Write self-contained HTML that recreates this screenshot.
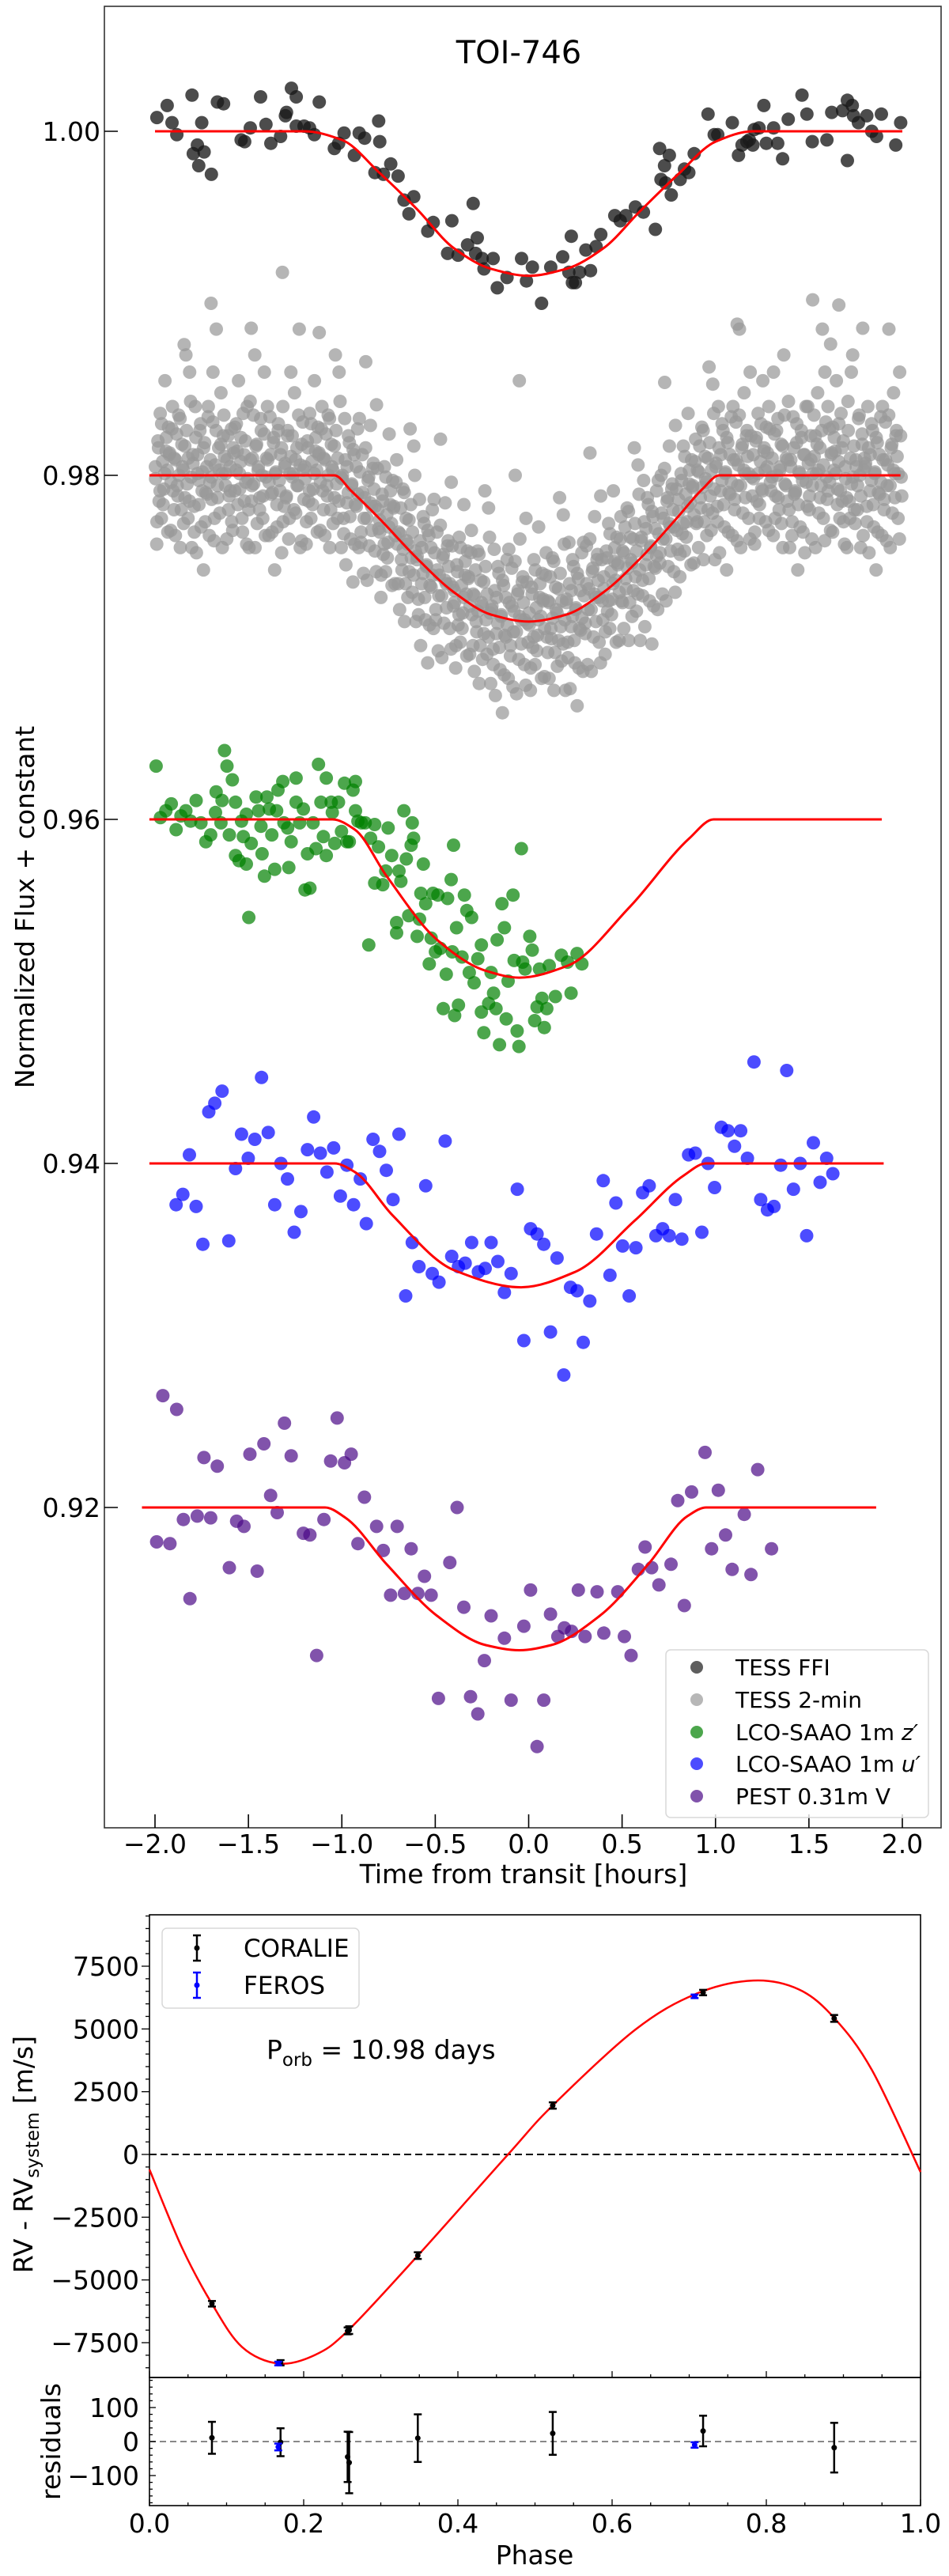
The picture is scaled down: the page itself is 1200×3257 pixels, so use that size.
<!DOCTYPE html>
<html><head><meta charset="utf-8"><title>TOI-746</title>
<style>
html,body{margin:0;padding:0;background:#fff;}
svg{display:block;font-family:"DejaVu Sans","Liberation Sans",sans-serif;}
</style></head>
<body>
<svg id="fig" xmlns="http://www.w3.org/2000/svg" width="1200" height="3257" viewBox="0 0 1200 3257">
<rect x="0" y="0" width="1200" height="3257" fill="#fff"/>
<g id="lcPanel"></g>
<g id="rvPanel"></g>
<g id="resPanel"></g>
</svg>
<script>
// ---------- Light curve data ----------
const ffiT=[-1.99,-1.935,-1.909,-1.883,-1.802,-1.795,-1.773,-1.737,-1.766,-1.75,-1.698,-1.666,-1.633,-1.539,-1.52,-1.49,-1.435,-1.406,-1.38,-1.328,-1.302,-1.296,-1.27,-1.244,-1.244,-1.202,-1.173,-1.147,-1.121,-1.04,-1.017,-0.988,-0.933,-0.907,-0.878,-0.823,-0.803,-0.797,-0.777,-0.738,-0.699,-0.667,-0.615,-0.641,-0.54,-0.511,-0.434,-0.411,-0.378,-0.327,-0.297,-0.275,-0.284,-0.249,-0.239,-0.19,-0.168,-0.116,-0.038,-0.012,0.02,0.069,0.118,0.182,0.215,0.234,0.228,0.25,0.273,0.306,0.331,0.361,0.386,0.461,0.49,0.52,0.571,0.614,0.678,0.701,0.727,0.753,0.708,0.733,0.763,0.811,0.834,0.857,0.886,0.96,0.993,1.012,1.09,1.123,1.142,1.168,1.181,1.207,1.233,1.2,1.259,1.272,1.311,1.333,1.359,1.389,1.463,1.489,1.518,1.596,1.622,1.68,1.706,1.732,1.739,1.765,1.706,1.81,1.836,1.862,1.888,1.965,1.991];
const ffiF=[1.0008,1.0015,1.0005,0.9998,1.0021,0.9987,0.9992,0.9988,0.998,1.0005,0.9975,1.0017,1.0016,0.9995,0.9994,1.0002,1.002,1.0004,0.9993,0.9997,1.0009,1.0011,1.0025,1.002,1.0003,1.0003,1.0002,0.9998,1.0017,0.999,0.9993,0.9999,0.9986,0.9999,0.9996,0.9976,1.0006,0.9994,0.9975,0.9981,0.9974,0.996,0.9962,0.9952,0.9942,0.9947,0.9929,0.9948,0.9928,0.9934,0.9958,0.9938,0.9929,0.9926,0.992,0.9926,0.9909,0.9915,0.9926,0.9913,0.9921,0.99,0.9921,0.9927,0.9918,0.9912,0.9939,0.9912,0.9918,0.9931,0.9919,0.9933,0.994,0.9951,0.9948,0.9951,0.9956,0.9953,0.9943,0.999,0.998,0.9986,0.9972,0.997,0.9963,0.9972,0.9978,0.9976,0.9987,1.001,0.9998,0.9998,1.0005,0.9986,0.9992,0.9994,0.9995,1.0001,1.0002,0.9992,1.0015,0.9993,1.0002,0.9993,0.9984,1.0007,1.0021,1.001,0.9994,0.9995,1.0011,1.0012,1.0018,1.0015,1.0009,1.0005,0.9983,1.0009,1.0,0.9997,1.001,0.9992,1.0005];

const grayBinTimes=[-1.95,-1.85,-1.75,-1.65,-1.55,-1.45,-1.35,-1.25,-1.15,-1.05,-0.95,-0.85,-0.75,-0.65,-0.55,-0.45,-0.35,-0.25,-0.15,-0.05,0.05,0.15,0.25,0.35,0.45,0.55,0.65,0.75,0.85,0.95,1.05,1.15,1.25,1.35,1.45,1.55,1.65,1.75,1.85,1.95];
// flux x 1e4 for each time bin
const grayRowsE4=[
[9798,9760,9820,9785,9836,9775,9808,9792,9855,9814,9803,9828,9813,9768,9827,9791],
[9810,9765,9824,9788,9800,9833,9780,9805,9772,9817,9870,9795,9810,9785,9843,9758],
[9807,9782,9840,9755,9812,9797,9826,9770,9802,9745,9819,9790,9789,9834,9765,9809],
[9786,9831,9762,9806,9885,9794,9816,9778,9848,9801,9823,9811,9801,9763,9823,9788],
[9791,9827,9768,9813,9828,9803,9814,9855,9792,9808,9775,9836,9785,9820,9760,9798],
[9758,9843,9785,9810,9795,9870,9817,9772,9805,9780,9833,9800,9788,9824,9765,9810],
[9809,9765,9834,9789,9790,9819,9745,9802,9770,9826,9797,9812,9755,9840,9782,9807],
[9788,9823,9763,9801,9811,9823,9801,9848,9778,9816,9794,9885,9806,9762,9831,9786],
[9798,9760,9820,9785,9836,9775,9808,9792,9855,9814,9803,9828,9813,9768,9827,9791],
[9810,9765,9824,9788,9800,9833,9780,9805,9772,9817,9870,9795,9810,9785,9843,9758],
[9800,9775,9833,9748,9805,9790,9819,9763,9795,9738,9812,9783,9782,9827,9758,9802],
[9767,9812,9743,9787,9866,9775,9797,9759,9829,9782,9804,9792,9782,9744,9804,9769],
[9767,9729,9789,9754,9805,9744,9777,9761,9824,9783,9772,9797,9782,9737,9796,9760],
[9767,9722,9781,9745,9757,9790,9737,9762,9729,9774,9827,9752,9767,9742,9800,9715],
[9753,9728,9786,9701,9758,9743,9772,9716,9748,9691,9765,9736,9735,9780,9711,9755],
[9722,9767,9698,9742,9821,9730,9752,9714,9784,9737,9759,9747,9737,9699,9759,9724],
[9726,9688,9748,9713,9764,9703,9736,9720,9783,9742,9731,9756,9741,9696,9755,9719],
[9731,9686,9745,9709,9721,9754,9701,9726,9693,9738,9791,9716,9731,9706,9764,9679],
[9724,9699,9757,9672,9729,9714,9743,9687,9719,9662,9736,9707,9706,9751,9682,9726],
[9701,9746,9677,9721,9800,9709,9731,9693,9763,9716,9738,9726,9716,9678,9738,9703],
[9713,9675,9735,9700,9751,9690,9723,9707,9770,9729,9718,9743,9728,9683,9742,9706],
[9727,9682,9741,9705,9717,9750,9697,9722,9689,9734,9787,9712,9727,9702,9760,9675],
[9728,9703,9761,9676,9733,9718,9747,9691,9723,9666,9740,9711,9710,9755,9686,9730],
[9714,9759,9690,9734,9813,9722,9744,9706,9776,9729,9751,9739,9729,9691,9751,9716],
[9734,9696,9756,9721,9772,9711,9744,9728,9791,9750,9739,9764,9749,9704,9763,9727],
[9756,9711,9770,9734,9746,9779,9726,9751,9718,9763,9816,9741,9756,9731,9789,9704],
[9764,9739,9797,9712,9769,9754,9783,9727,9759,9702,9776,9747,9746,9791,9722,9766],
[9755,9800,9731,9775,9854,9763,9785,9747,9817,9770,9792,9780,9770,9732,9792,9757],
[9779,9741,9801,9766,9817,9756,9789,9773,9836,9795,9784,9809,9794,9749,9808,9772],
[9803,9758,9817,9781,9793,9826,9773,9798,9765,9810,9863,9788,9803,9778,9836,9751],
[9807,9782,9840,9755,9812,9797,9826,9770,9802,9745,9819,9790,9789,9834,9765,9809],
[9786,9831,9762,9806,9885,9794,9816,9778,9848,9801,9823,9811,9801,9763,9823,9788],
[9798,9760,9820,9785,9836,9775,9808,9792,9855,9814,9803,9828,9813,9768,9827,9791],
[9810,9765,9824,9788,9800,9833,9780,9805,9772,9817,9870,9795,9810,9785,9843,9758],
[9809,9765,9834,9789,9790,9819,9745,9802,9770,9826,9797,9812,9755,9840,9782,9807],
[9788,9823,9763,9801,9811,9823,9801,9848,9778,9816,9794,9885,9806,9762,9831,9786],
[9791,9827,9768,9813,9828,9803,9814,9855,9792,9808,9775,9836,9785,9820,9760,9798],
[9758,9843,9785,9810,9795,9870,9817,9772,9805,9780,9833,9800,9788,9824,9765,9810],
[9807,9782,9840,9755,9812,9797,9826,9770,9802,9745,9819,9790,9789,9834,9765,9809],
[9786,9831,9762,9806,9885,9794,9816,9778,9848,9801,9823,9811,9801,9763,9823,9788]];
// second interleaved batch of 2-min points (flux x 1e4)
const grayRows2E4=[
[9805,9773,9816,9791,9830,9783,9801,9822,9767,9812,9796,9840],
[9780,9809,9794,9835,9758,9818,9803,9787,9826,9775,9860,9799],
[9812,9767,9822,9801,9783,9830,9791,9816,9773,9805,9840,9796],
[9799,9860,9775,9826,9787,9803,9818,9758,9835,9794,9809,9780],
[9805,9773,9816,9791,9830,9783,9801,9822,9767,9812,9796,9840],
[9780,9809,9794,9835,9758,9818,9803,9787,9826,9775,9860,9799],
[9840,9796,9812,9767,9822,9801,9783,9830,9791,9816,9773,9805],
[9787,9826,9775,9860,9799,9780,9809,9794,9835,9758,9818,9803],
[9805,9773,9816,9791,9830,9783,9801,9822,9767,9812,9796,9840],
[9780,9809,9794,9835,9758,9818,9803,9787,9826,9775,9860,9799],
[9798,9766,9809,9784,9823,9776,9794,9815,9760,9805,9789,9833],
[9761,9790,9775,9816,9739,9799,9784,9768,9807,9756,9841,9780],
[9774,9742,9785,9760,9799,9752,9770,9791,9736,9781,9765,9809],
[9737,9766,9751,9792,9715,9775,9760,9744,9783,9732,9817,9756],
[9751,9719,9762,9737,9776,9729,9747,9768,9713,9758,9742,9786],
[9716,9745,9730,9771,9694,9754,9739,9723,9762,9711,9796,9735],
[9733,9701,9744,9719,9758,9711,9729,9750,9695,9740,9724,9768],
[9701,9730,9715,9756,9679,9739,9724,9708,9747,9696,9781,9720],
[9722,9690,9733,9708,9747,9700,9718,9739,9684,9729,9713,9757],
[9695,9724,9709,9750,9673,9733,9718,9702,9741,9690,9775,9714],
[9720,9688,9731,9706,9745,9698,9716,9737,9682,9727,9711,9755],
[9697,9726,9711,9752,9675,9735,9720,9704,9743,9692,9777,9716],
[9726,9694,9737,9712,9751,9704,9722,9743,9688,9733,9717,9761],
[9708,9737,9722,9763,9686,9746,9731,9715,9754,9703,9788,9727],
[9741,9709,9752,9727,9766,9719,9737,9758,9703,9748,9732,9776],
[9726,9755,9740,9781,9704,9764,9749,9733,9772,9721,9806,9745],
[9762,9730,9773,9748,9787,9740,9758,9779,9724,9769,9753,9797],
[9749,9778,9763,9804,9727,9787,9772,9756,9795,9744,9829,9768],
[9786,9754,9797,9772,9811,9764,9782,9803,9748,9793,9777,9821],
[9773,9802,9787,9828,9751,9811,9796,9780,9819,9768,9853,9792],
[9805,9773,9816,9791,9830,9783,9801,9822,9767,9812,9796,9840],
[9780,9809,9794,9835,9758,9818,9803,9787,9826,9775,9860,9799],
[9812,9767,9822,9801,9783,9830,9791,9816,9773,9805,9840,9796],
[9799,9860,9775,9826,9787,9803,9818,9758,9835,9794,9809,9780],
[9805,9773,9816,9791,9830,9783,9801,9822,9767,9812,9796,9840],
[9780,9809,9794,9835,9758,9818,9803,9787,9826,9775,9860,9799],
[9840,9796,9812,9767,9822,9801,9783,9830,9791,9816,9773,9805],
[9787,9826,9775,9860,9799,9780,9809,9794,9835,9758,9818,9803],
[9805,9773,9816,9791,9830,9783,9801,9822,9767,9812,9796,9840],
[9780,9809,9794,9835,9758,9818,9803,9787,9826,9775,9860,9799]];
const grayExtraT=[-1.318,-1.70,-0.05,1.52,1.66,-1.485,-1.121,1.116,1.788,1.616,-1.844];
const grayExtraF=[0.9918,0.99,0.9855,0.9902,0.9899,0.98855,0.9883,0.98879,0.98855,0.98763,0.9876];

const greenT=[-1.994,-1.971,-1.942,-1.913,-1.887,-1.861,-1.835,-1.809,-1.78,-1.754,-1.728,-1.702,-1.676,-1.673,-1.647,-1.641,-1.628,-1.615,-1.602,-1.586,-1.569,-1.569,-1.55,-1.537,-1.527,-1.511,-1.511,-1.498,-1.485,-1.459,-1.446,-1.433,-1.427,-1.414,-1.401,-1.388,-1.375,-1.359,-1.349,-1.342,-1.316,-1.31,-1.29,-1.284,-1.271,-1.245,-1.245,-1.226,-1.206,-1.197,-1.184,-1.171,-1.154,-1.138,-1.125,-1.112,-1.099,-1.083,-1.083,-1.057,-1.051,-1.038,-1.018,-1.002,-0.986,-0.973,-0.96,-0.94,-0.927,-0.927,-0.914,-0.895,-0.875,-0.856,-0.846,-0.824,-0.824,-0.804,-0.781,-0.765,-0.752,-0.733,-0.707,-0.707,-0.694,-0.684,-0.668,-0.655,-0.642,-0.629,-0.623,-0.616,-0.597,-0.584,-0.577,-0.564,-0.551,-0.532,-0.522,-0.512,-0.499,-0.486,-0.473,-0.457,-0.441,-0.434,-0.415,-0.409,-0.402,-0.396,-0.386,-0.376,-0.357,-0.344,-0.331,-0.318,-0.305,-0.292,-0.272,-0.253,-0.24,-0.253,-0.214,-0.201,-0.188,-0.175,-0.169,-0.156,-0.143,-0.13,-0.12,-0.11,-0.084,-0.078,-0.062,-0.052,-0.039,-0.032,-0.019,0.006,0.019,0.032,0.045,0.058,0.071,0.084,0.097,0.11,0.143,0.175,0.208,0.227,0.259,0.285];
const greenF=[0.9631,0.9601,0.9605,0.9609,0.9594,0.9602,0.9605,0.9599,0.9611,0.9598,0.9587,0.9591,0.9604,0.9616,0.9598,0.9611,0.964,0.9631,0.9591,0.9623,0.9579,0.961,0.9576,0.9599,0.959,0.9574,0.9603,0.9543,0.9586,0.9613,0.9605,0.9596,0.958,0.9567,0.9613,0.9606,0.9591,0.9571,0.9605,0.9617,0.9622,0.9598,0.9595,0.9572,0.9587,0.9624,0.961,0.9598,0.9606,0.9559,0.958,0.956,0.9598,0.9583,0.9632,0.961,0.959,0.9624,0.9579,0.961,0.9604,0.9586,0.961,0.9593,0.9621,0.9587,0.9587,0.9617,0.9622,0.9605,0.9599,0.9598,0.9598,0.9527,0.9589,0.9563,0.9597,0.9584,0.9562,0.957,0.9595,0.9579,0.954,0.9534,0.957,0.9564,0.9605,0.9577,0.9544,0.9585,0.9598,0.9589,0.9532,0.9542,0.9557,0.9574,0.9551,0.9516,0.9531,0.9557,0.9523,0.9556,0.9525,0.949,0.951,0.9554,0.9565,0.9523,0.9585,0.9486,0.9537,0.9492,0.952,0.9556,0.9547,0.9511,0.9543,0.9505,0.9519,0.9527,0.9476,0.9488,0.9493,0.9511,0.9499,0.949,0.953,0.9469,0.9551,0.9537,0.9484,0.9506,0.9556,0.9518,0.9477,0.9468,0.9583,0.9517,0.9513,0.9532,0.9524,0.9483,0.9491,0.9513,0.9496,0.9479,0.949,0.9515,0.9497,0.9521,0.9517,0.9499,0.9522,0.9516];

const blueT=[-1.887,-1.851,-1.816,-1.78,-1.744,-1.712,-1.68,-1.641,-1.605,-1.569,-1.537,-1.501,-1.466,-1.43,-1.394,-1.359,-1.326,-1.291,-1.255,-1.219,-1.184,-1.151,-1.115,-1.08,-1.044,-1.008,-0.973,-0.937,-0.901,-0.869,-0.833,-0.798,-0.762,-0.726,-0.694,-0.658,-0.623,-0.587,-0.551,-0.516,-0.48,-0.447,-0.412,-0.376,-0.34,-0.305,-0.269,-0.233,-0.201,-0.165,-0.13,-0.094,-0.061,-0.026,0.01,0.045,0.081,0.117,0.152,0.188,0.224,0.259,0.292,0.327,0.363,0.399,0.435,0.467,0.503,0.538,0.574,0.61,0.645,0.681,0.717,0.752,0.785,0.82,0.856,0.892,0.927,0.96,0.995,1.031,1.067,1.102,1.135,1.171,1.206,1.242,1.278,1.313,1.349,1.381,1.417,1.453,1.488,1.524,1.56,1.595,1.628];
const blueF=[0.9376,0.9382,0.9405,0.9375,0.9353,0.943,0.9435,0.9442,0.9355,0.9397,0.9417,0.9403,0.9414,0.945,0.9418,0.9376,0.94,0.9391,0.936,0.9372,0.9408,0.9427,0.9406,0.9395,0.9409,0.9381,0.9399,0.9376,0.9391,0.9365,0.9414,0.9407,0.9396,0.9379,0.9417,0.9323,0.9354,0.934,0.9387,0.9336,0.9331,0.9413,0.9346,0.934,0.9342,0.9354,0.9337,0.9339,0.9354,0.9343,0.9325,0.9336,0.9385,0.9297,0.9362,0.9359,0.9353,0.9302,0.9345,0.9277,0.9328,0.9326,0.9296,0.932,0.9359,0.939,0.9335,0.9377,0.9352,0.9323,0.9351,0.9383,0.9387,0.9358,0.9362,0.9358,0.9379,0.9356,0.9405,0.9406,0.936,0.94,0.9386,0.9421,0.9419,0.941,0.9419,0.9403,0.9459,0.9379,0.9373,0.9375,0.9399,0.9454,0.9385,0.94,0.9358,0.9412,0.9389,0.9403,0.9394];

const purpleT=[-1.991,-1.958,-1.92,-1.884,-1.848,-1.813,-1.774,-1.738,-1.702,-1.667,-1.602,-1.563,-1.524,-1.492,-1.453,-1.417,-1.381,-1.346,-1.307,-1.271,-1.206,-1.171,-1.135,-1.096,-1.06,-1.025,-0.986,-0.95,-0.914,-0.879,-0.814,-0.778,-0.739,-0.704,-0.665,-0.629,-0.593,-0.558,-0.522,-0.483,-0.422,-0.383,-0.347,-0.311,-0.272,-0.237,-0.201,-0.13,-0.094,-0.026,0.01,0.045,0.081,0.117,0.156,0.191,0.23,0.266,0.302,0.366,0.402,0.477,0.512,0.548,0.587,0.623,0.658,0.697,0.762,0.798,0.833,0.872,0.944,0.979,1.015,1.054,1.089,1.154,1.19,1.226,1.3];
const purpleF=[0.918,0.9265,0.9179,0.9257,0.9193,0.9147,0.9195,0.9229,0.9194,0.9224,0.9165,0.9192,0.9189,0.9231,0.9163,0.9237,0.9207,0.9197,0.9249,0.923,0.9185,0.9184,0.9114,0.9193,0.9227,0.9252,0.9226,0.9231,0.9179,0.9206,0.9189,0.9175,0.9149,0.9189,0.915,0.9176,0.915,0.916,0.9149,0.9089,0.9168,0.92,0.9142,0.909,0.908,0.9111,0.9137,0.9124,0.9088,0.9131,0.9152,0.9061,0.9088,0.9138,0.9125,0.913,0.9128,0.9152,0.9125,0.9151,0.9127,0.9151,0.9125,0.9114,0.9164,0.9177,0.9165,0.9155,0.9167,0.9204,0.9143,0.9209,0.9232,0.9176,0.921,0.9184,0.9164,0.9196,0.9161,0.9222,0.9176];

// transit model curves (sampled from the figure)
const ffiModelT=[-2.0,-1.2,-1.0,-0.8,-0.6,-0.4,-0.2,0,0.2,0.4,0.6,0.8,1.0,1.2,2.0];
const ffiModelF=[1,1,0.9995,0.9976,0.9955,0.9932,0.992,0.9916,0.992,0.9932,0.9954,0.9975,0.9994,1,1];
const grayModelT=[-2.03,-1.04,-0.95,-0.8,-0.6,-0.4,-0.2,0,0.2,0.4,0.6,0.8,0.93,1.02,1.99];
const grayModelF=[0.98,0.98,0.9791,0.9775,0.9752,0.9732,0.9719,0.9715,0.9719,0.9732,0.9752,0.9776,0.9792,0.98,0.98];
const greenModelT=[-2.03,-1.05,-0.93,-0.76,-0.49,-0.23,-0.05,0.21,0.54,0.86,0.99,1.89];
const greenModelF=[0.96,0.96,0.9594,0.9567,0.953,0.9512,0.9508,0.9515,0.9549,0.9589,0.96,0.96];
const blueModelT=[-2.03,-1.04,-0.93,-0.73,-0.4,-0.04,0.25,0.57,0.83,0.95,1.9];
const blueModelF=[0.94,0.94,0.9395,0.937,0.9338,0.9328,0.9337,0.9367,0.9393,0.94,0.94];
const purpleModelT=[-2.07,-1.09,-0.98,-0.76,-0.49,-0.23,-0.05,0.12,0.38,0.64,0.85,0.95,1.86];
const purpleModelF=[0.92,0.92,0.9194,0.9167,0.9137,0.912,0.9117,0.912,0.9137,0.9167,0.9195,0.92,0.92];

const lcXTicks=[-2.0,-1.5,-1.0,-0.5,0.0,0.5,1.0,1.5,2.0];
const lcXTickLabels=["\u22122.0","\u22121.5","\u22121.0","\u22120.5","0.0","0.5","1.0","1.5","2.0"];
const lcYTicks=[1.00,0.98,0.96,0.94,0.92];
const lcYTickLabels=["1.00","0.98","0.96","0.94","0.92"];
const legendLabels=["TESS FFI","TESS 2-min","LCO-SAAO 1m z\u2032","LCO-SAAO 1m u\u2032","PEST 0.31m V"];

// ---------- RV data ----------
const rvModelPhase=[0,0.042,0.081,0.12,0.167,0.214,0.257,0.348,0.465,0.523,0.63,0.709,0.783,0.842,0.888,0.937,1.0];
const rvModelVel=[-600,-3700,-5950,-7670,-8330,-8000,-7030,-4030,0,1950,4970,6400,6930,6580,5440,3360,-700];
const coraliePhase=[0.081,0.17,0.257,0.259,0.348,0.523,0.718,0.888];
const coralieRV=[-5950,-8300,-7030,-7000,-4030,1950,6450,5420];
const coralieErr=[47,41,74,90,70,63,45,73];
const coralieResid=[11,-2,-45,-62,10,24,31,-18];
const ferosPhase=[0.167,0.707];
const ferosRV=[-8330,6300];
const ferosErr=[10,8];
const ferosResid=[-16,-10];
const rvYTicks=[7500,5000,2500,0,-2500,-5000,-7500];
const rvYTickLabels=["7500","5000","2500","0","\u22122500","\u22125000","\u22127500"];
const resYTicks=[100,0,-100];
const resYTickLabels=["100","0","\u2212100"];
const phaseTicks=[0.0,0.2,0.4,0.6,0.8,1.0];
const phaseTickLabels=["0.0","0.2","0.4","0.6","0.8","1.0"];

// ---------- axis functions ----------
const X=t=>668.5+t*236.25;
const Y=f=>166+(1-f)*21750;
const PX=p=>189+p*975;
const RVY=v=>2724-v*0.031733;
const RESY=r=>3087-r*0.43;

const NS="http://www.w3.org/2000/svg";
function mk(parent,tag,attrs,text){const e=document.createElementNS(NS,tag);for(const k in attrs)e.setAttribute(k,attrs[k]);if(text!==undefined)e.textContent=text;parent.appendChild(e);return e;}
function smooth(pts){let d="M"+pts[0][0].toFixed(1)+","+pts[0][1].toFixed(1);for(let i=0;i<pts.length-1;i++){const p0=pts[i-1]||pts[i],p1=pts[i],p2=pts[i+1],p3=pts[i+2]||pts[i+1];const c1=[p1[0]+(p2[0]-p0[0])/6,p1[1]+(p2[1]-p0[1])/6];const c2=[p2[0]-(p3[0]-p1[0])/6,p2[1]-(p3[1]-p1[1])/6];d+="C"+c1[0].toFixed(1)+","+c1[1].toFixed(1)+" "+c2[0].toFixed(1)+","+c2[1].toFixed(1)+" "+p2[0].toFixed(1)+","+p2[1].toFixed(1);}return d;}
// monotone cubic (Fritsch-Carlson) path, no overshoot
function monotone(pts){const n=pts.length;const dx=[],s=[];for(let i=0;i<n-1;i++){dx.push(pts[i+1][0]-pts[i][0]);s.push((pts[i+1][1]-pts[i][1])/dx[i]);}
const m=[s[0]];for(let i=1;i<n-1;i++){if(s[i-1]*s[i]<=0)m.push(0);else{const w1=2*dx[i]+dx[i-1],w2=dx[i]+2*dx[i-1];m.push((w1+w2)/(w1/s[i-1]+w2/s[i]));}}m.push(s[n-2]);
let d="M"+pts[0][0].toFixed(1)+","+pts[0][1].toFixed(1);for(let i=0;i<n-1;i++){const h=dx[i]/3;d+="C"+(pts[i][0]+h).toFixed(1)+","+(pts[i][1]+m[i]*h).toFixed(1)+" "+(pts[i+1][0]-h).toFixed(1)+","+(pts[i+1][1]-m[i+1]*h).toFixed(1)+" "+pts[i+1][0].toFixed(1)+","+pts[i+1][1].toFixed(1);}return d;}

const lc=document.getElementById('lcPanel');
const rv=document.getElementById('rvPanel');
const rs=document.getElementById('resPanel');
const R=8.5;

// ---- light curve panel ----
const lcFrame=mk(lc,'rect',{x:132,y:8,width:1058,height:2303,fill:'none',stroke:'#333',"stroke-width":1.6});



const grayG=mk(lc,'g',{fill:'#999999','fill-opacity':0.72});


grayBinTimes.forEach((c,i)=>{const row=grayRowsE4[i];row.forEach((v,k)=>{const t=c-0.05+(k+0.5)*0.1/row.length;const d=mk(grayG,'circle',{cx:X(t).toFixed(1),cy:Y(v/1e4).toFixed(1),r:R});

});
const row2=grayRows2E4[i];row2.forEach((v,k)=>{const t=c-0.05+(k+0.25)*0.1/row2.length;const d=mk(grayG,'circle',{cx:X(t).toFixed(1),cy:Y(v/1e4).toFixed(1),r:R});

});});
grayExtraT.forEach((t,i)=>{const d=mk(grayG,'circle',{cx:X(t),cy:Y(grayExtraF[i]),r:R});

});

function series(T,F,fill,op,name){const g=mk(lc,'g',{fill:fill,'fill-opacity':op});


T.forEach((t,i)=>{const d=mk(g,'circle',{cx:X(t).toFixed(1),cy:Y(F[i]).toFixed(1),r:R});

});}
series(ffiT,ffiF,'#1a1a1a',0.78,'tess-ffi');
series(greenT,greenF,'#008000',0.7,'lco-zprime');
series(blueT,blueF,'#0000ff',0.7,'lco-uprime');
series(purpleT,purpleF,'#4b0a87',0.7,'pest-v');

function model(T,F,name){const p=mk(lc,'path',{d:monotone(T.map((t,i)=>[X(t),Y(F[i])])),fill:'none',stroke:'#ff0000','stroke-width':3});

}
model(ffiModelT,ffiModelF,'tess-ffi-model-line');
model(grayModelT,grayModelF,'tess-2min-model-line');
model(greenModelT,greenModelF,'lco-zprime-model-line');
model(blueModelT,blueModelF,'lco-uprime-model-line');
model(purpleModelT,purpleModelF,'pest-v-model-line');

lcYTicks.forEach((v,i)=>{const y=Y(v);const tk=mk(lc,'line',{x1:132,x2:149,y1:y,y2:y,stroke:'#000','stroke-width':1.6});


const lb=mk(lc,'text',{x:127,y:y+12,'text-anchor':'end','font-size':33},lcYTickLabels[i]);

});
lcXTicks.forEach((t,i)=>{const x=X(t);const tk=mk(lc,'line',{x1:x,x2:x,y1:2311,y2:2294,stroke:'#000','stroke-width':1.6});


const lb=mk(lc,'text',{x:x,y:2343,'text-anchor':'middle','font-size':33},lcXTickLabels[i]);

});
const ttl=mk(lc,'text',{x:656,y:80,'text-anchor':'middle','font-size':40},'TOI-746');


const xl=mk(lc,'text',{x:662,y:2381,'text-anchor':'middle','font-size':33},'Time from transit [hours]');


const yl=mk(lc,'text',{x:0,y:0,'text-anchor':'middle','font-size':33,transform:'translate(43,1147) rotate(-90)'},'Normalized Flux +  constant');



// legend
const lg=mk(lc,'g',{});


const lgb=mk(lg,'rect',{x:842,y:2086,width:332,height:212,rx:6,fill:'#fff','fill-opacity':0.8,stroke:'#d8d8d8','stroke-width':1.5});


const legColors=['#1a1a1a','#999999','#008000','#0000ff','#4b0a87'];
const legY=[2108,2149,2190,2230,2271];
legendLabels.forEach((s,i)=>{const m=mk(lg,'circle',{cx:881,cy:legY[i],r:8,fill:legColors[i],'fill-opacity':0.7});


const t=mk(lg,'text',{x:930,y:legY[i]+10,'font-size':28},'');


if(i===2||i===3){t.textContent=s.slice(0,-2)+' ';const it=mk(t,'tspan',{'font-style':'italic'},s.slice(-2));

}else{t.textContent=s;}});

// ---- RV panel ----
const rvFrame=mk(rv,'rect',{x:189,y:2421,width:975,height:585,fill:'none',stroke:'#000','stroke-width':1.6});


const zl=mk(rv,'line',{x1:189,x2:1164,y1:RVY(0),y2:RVY(0),stroke:'#000','stroke-width':2,'stroke-dasharray':'9,5'});


const rvm=mk(rv,'path',{d:smooth(rvModelPhase.map((p,i)=>[PX(p),RVY(rvModelVel[i])])),fill:'none',stroke:'#ff0000','stroke-width':2.5});


function ebar(parent,x,yc,y1,y2,col,name){const g=mk(parent,'g',{stroke:col,'stroke-width':2.5,fill:col});


mk(g,'line',{x1:x,x2:x,y1:y1,y2:y2});mk(g,'line',{x1:x-5,x2:x+5,y1:y1,y2:y1});mk(g,'line',{x1:x-5,x2:x+5,y1:y2,y2:y2});mk(g,'circle',{cx:x,cy:yc,r:3.5,stroke:'none'});}
coraliePhase.forEach((p,i)=>{ebar(rv,PX(p),RVY(coralieRV[i]),RVY(coralieRV[i]+coralieErr[i])-2,RVY(coralieRV[i]-coralieErr[i])+2,'#000','coralie-rv-point');});
ferosPhase.forEach((p,i)=>{ebar(rv,PX(p),RVY(ferosRV[i]),RVY(ferosRV[i]+ferosErr[i])-2,RVY(ferosRV[i]-ferosErr[i])+2,'#0000ff','feros-rv-point');});
for(let v=-8500;v<=9500;v+=500){const y=RVY(v);const major=(v%2500===0);const tk=mk(rv,'line',{x1:major?179:184,x2:189,y1:y,y2:y,stroke:'#000','stroke-width':1.3});

}
rvYTicks.forEach((v,i)=>{const lb=mk(rv,'text',{x:176,y:RVY(v)+12,'text-anchor':'end','font-size':33},rvYTickLabels[i]);

});
const rvl=mk(rv,'text',{x:0,y:0,'text-anchor':'middle','font-size':33,transform:'translate(41,2724) rotate(-90)'},'');


rvl.appendChild(document.createTextNode('RV - RV'));
const sub=mk(rvl,'tspan',{'font-size':23,dy:8},'system');


const rest=mk(rvl,'tspan',{dy:-8},' [m/s]');


const por=mk(rv,'text',{x:337,y:2603,'font-size':33},'P');


const ps=mk(por,'tspan',{'font-size':23,dy:9},'orb');


const pv=mk(por,'tspan',{dy:-9},' = 10.98 days');


// rv legend
const rlg=mk(rv,'g',{});


const rlb=mk(rlg,'rect',{x:205,y:2438,width:249,height:101,rx:6,fill:'#fff',stroke:'#d8d8d8','stroke-width':1.5});


ebar(rlg,249,2463,2447,2479,'#000','legend-coralie-marker');
ebar(rlg,249,2510,2494,2526,'#0000ff','legend-feros-marker');
const lt1=mk(rlg,'text',{x:308,y:2474,'font-size':31},'CORALIE');


const lt2=mk(rlg,'text',{x:308,y:2521,'font-size':31},'FEROS');



// ---- residual panel ----
const rsFrame=mk(rs,'rect',{x:189,y:3006,width:975,height:162,fill:'none',stroke:'#000','stroke-width':1.6});


const rz=mk(rs,'line',{x1:189,x2:1164,y1:RESY(0),y2:RESY(0),stroke:'#888','stroke-width':2,'stroke-dasharray':'8,5'});


coraliePhase.forEach((p,i)=>{ebar(rs,PX(p),RESY(coralieResid[i]),RESY(coralieResid[i]+coralieErr[i]),RESY(coralieResid[i]-coralieErr[i]),'#000','coralie-residual-point');});
ferosPhase.forEach((p,i)=>{ebar(rs,PX(p),RESY(ferosResid[i]),RESY(ferosResid[i]+ferosErr[i]),RESY(ferosResid[i]-ferosErr[i]),'#0000ff','feros-residual-point');});
for(let v=-180;v<=180;v+=20){const y=RESY(v);const major=(v%100===0);const tk=mk(rs,'line',{x1:189,x2:major?197:193,y1:y,y2:y,stroke:'#000','stroke-width':1.3});

}
resYTicks.forEach((v,i)=>{const lb=mk(rs,'text',{x:176,y:RESY(v)+12,'text-anchor':'end','font-size':33},resYTickLabels[i]);

});
for(let k=0;k<=20;k++){const x=PX(k*0.05);const major=(k%4===0);const tk=mk(rs,'line',{x1:x,x2:x,y1:3168,y2:major?3160:3164,stroke:'#000','stroke-width':1.3});


const tk2=mk(rv,'line',{x1:x,x2:x,y1:3006,y2:major?2998:3002,stroke:'#000','stroke-width':1.3});

}
phaseTicks.forEach((p,i)=>{const lb=mk(rs,'text',{x:PX(p),y:3202,'text-anchor':'middle','font-size':33},phaseTickLabels[i]);

});
const pl=mk(rs,'text',{x:676,y:3242,'text-anchor':'middle','font-size':33},'Phase');


const rl=mk(rs,'text',{x:0,y:0,'text-anchor':'middle','font-size':33,transform:'translate(76,3087) rotate(-90)'},'residuals');


</script>
</body></html>
